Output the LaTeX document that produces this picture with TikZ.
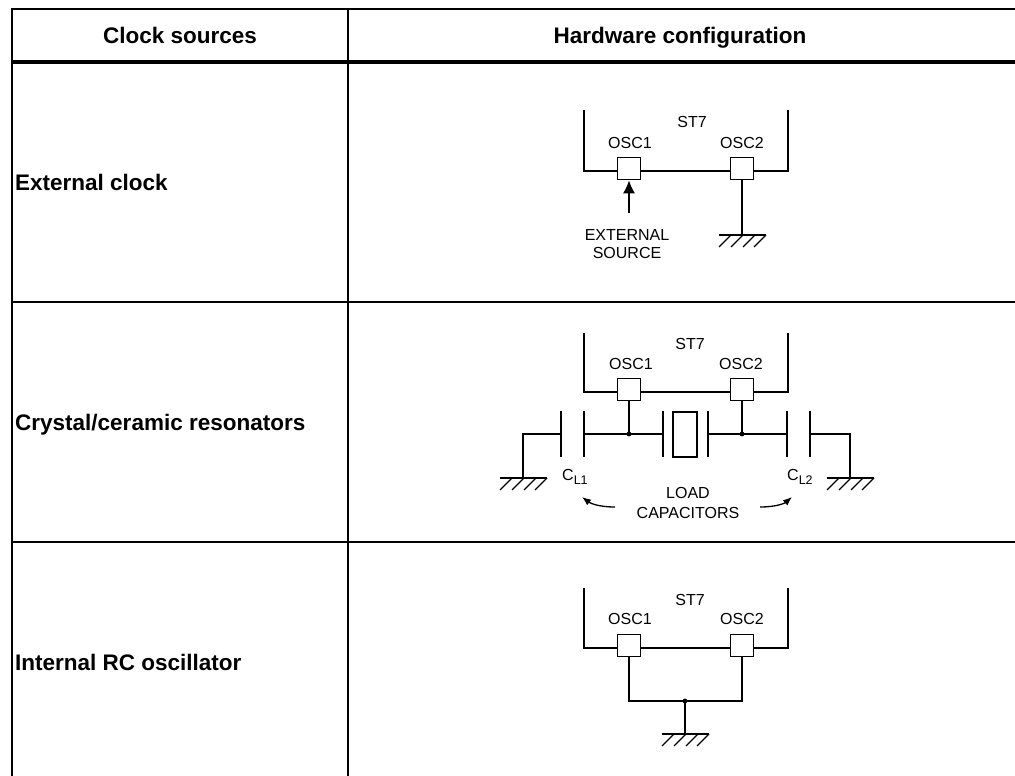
\documentclass[tikz,border=0pt]{standalone}
\usepackage{fontspec}
\setmainfont{Liberation Sans}
\usetikzlibrary{arrows.meta}
\tikzset{
  wire/.style={line width=1.6pt},
  plate/.style={line width=1.9pt},
  border/.style={line width=2pt},
  pinbox/.style={draw, line width=1.6pt, fill=white, minimum width=23pt, minimum height=22pt, inner sep=0pt},
  lbl/.style={font=\fontsize{16}{19}\selectfont, inner sep=0pt},
  head/.style={font=\fontsize{22.5}{26}\selectfont\bfseries, inner sep=0pt},
  pics/gnd/.style={code={
    \draw[wire] (-23,0) -- (24,0);
    \foreach \t in {-11,1,13,24}{\draw[line width=1.1pt] (\t,0) -- ({\t-12},12);}
  }}
}
\begin{document}
\begin{tikzpicture}[x=1pt,y=-1pt]
\useasboundingbox (0,0) rectangle (1015,776);
\fill[white] (0,0) rectangle (1015,776);
\clip (0,0) rectangle (1015,776);
% table
\draw[border] (12,800) -- (12,9) -- (1030,9);
\draw[line width=3.5pt] (12,62) -- (1030,62);
\draw[border] (348,9) -- (348,800);
\draw[border] (12,302) -- (1030,302);
\draw[border] (12,542) -- (1030,542);
\node[head,anchor=base] (h1) at (180,43.5) {Clock sources};
\node[head,anchor=base] (h2) at (680,43.5) {Hardware configuration};
\node[head,anchor=base west] (r1) at (15,190) {External clock};
\node[head,anchor=base west] (r2) at (15,430) {Crystal/ceramic resonators};
\node[head,anchor=base west] (r3) at (15,670) {Internal RC oscillator};
% row 1
\begin{scope}[shift={(0,171)}]
 \draw[wire] (584,-61) -- (584,0) -- (788,0) -- (788,-61);
 \node[pinbox] (p11) at (629,-2.5) {};
 \node[pinbox] (p12) at (742,-2.5) {};
 \node[lbl,anchor=base] (st1) at (692,-43) {ST7};
 \node[lbl,anchor=base] (o11) at (630,-22.5) {OSC1};
 \node[lbl,anchor=base] (o12) at (742,-22.5) {OSC2};
 \coordinate (t1) at (629,42);
 \draw[wire,-{Latex[length=13pt,width=12pt]}] (t1) -- (p11.south);
 \node[lbl,anchor=base] (e1) at (627,69) {EXTERNAL};
 \node[lbl,anchor=base] (e2) at (627,87) {SOURCE};
 \coordinate (g1) at (742,64);
 \draw[wire] (p12.south) -- (g1);
 \pic at (g1) {gnd};
\end{scope}
% row 2
\begin{scope}[shift={(0,392)}]
 \draw[wire] (584,-59) -- (584,0) -- (788,0) -- (788,-59);
 \node[pinbox] (p21) at (629,-2.5) {};
 \node[pinbox] (p22) at (742,-2.5) {};
 \node[lbl,anchor=base] (st2) at (690,-43) {ST7};
 \node[lbl,anchor=base] (o21) at (631,-22.5) {OSC1};
 \node[lbl,anchor=base] (o22) at (741,-22.5) {OSC2};
 \coordinate (j21) at (629,42);
 \coordinate (j22) at (742,42);
 \draw[wire] (p21.south) -- (j21);
 \draw[wire] (p22.south) -- (j22);
 \foreach \x in {561,584,663,708,787,810}{\draw[plate] (\x,19) -- (\x,65);}
 \node[draw,line width=1.6pt,minimum width=24pt,minimum height=45pt,inner sep=0pt] (xt) at (685,42.5) {};
 \coordinate (ca1) at (561,42); \coordinate (ca2) at (584,42);
 \coordinate (xa) at (663,42); \coordinate (xb) at (708,42);
 \coordinate (cb1) at (787,42); \coordinate (cb2) at (810,42);
 \coordinate (ga) at (523,86); \coordinate (gb) at (850,86);
 \draw[wire] (ca2) -- (xa);
 \draw[wire] (xb) -- (cb1);
 \draw[wire] (ca1) -- (ga |- ca1) -- (ga);
 \draw[wire] (cb2) -- (gb |- cb2) -- (gb);
 \fill (j21) circle (2.4);
 \fill (j22) circle (2.4);
 \pic at (ga) {gnd};
 \pic at (gb) {gnd};
 \node[lbl,anchor=base west] (cl1) at (562,88) {C\raisebox{-4pt}{\fontsize{12.5}{13}\selectfont L1}};
 \node[lbl,anchor=base west] (cl2) at (787,88) {C\raisebox{-4pt}{\fontsize{12.5}{13}\selectfont L2}};
 \node[lbl,anchor=base] (ld1) at (688,106) {LOAD};
 \node[lbl,anchor=base] (ld2) at (688,126) {CAPACITORS};
 \coordinate (la1) at (615,115); \coordinate (la2) at (582,105);
 \coordinate (ra1) at (760,115); \coordinate (ra2) at (792,105);
 \draw[line width=1.3pt,-{Latex[length=9pt,width=7pt]}] (la1) .. controls (598,115) and (590,111) .. (la2);
 \draw[line width=1.3pt,-{Latex[length=9pt,width=7pt]}] (ra1) .. controls (777,115) and (785,111) .. (ra2);
\end{scope}
% row 3
\begin{scope}[shift={(0,648)}]
 \draw[wire] (584,-60) -- (584,0) -- (788,0) -- (788,-60);
 \node[pinbox] (p31) at (629,-2.5) {};
 \node[pinbox] (p32) at (742,-2.5) {};
 \node[lbl,anchor=base] (st3) at (690,-43) {ST7};
 \node[lbl,anchor=base] (o31) at (630,-23.5) {OSC1};
 \node[lbl,anchor=base] (o32) at (742,-23.5) {OSC2};
 \coordinate (k31) at (629,53);
 \coordinate (k32) at (742,53);
 \coordinate (j3) at (685,53);
 \coordinate (g3) at (685,86);
 \draw[wire] (p31.south) -- (k31) -- (k32) -- (p32.south);
 \fill (j3) circle (2.4);
 \draw[wire] (j3) -- (g3);
 \pic at (g3) {gnd};
\end{scope}
\end{tikzpicture}
\end{document}
